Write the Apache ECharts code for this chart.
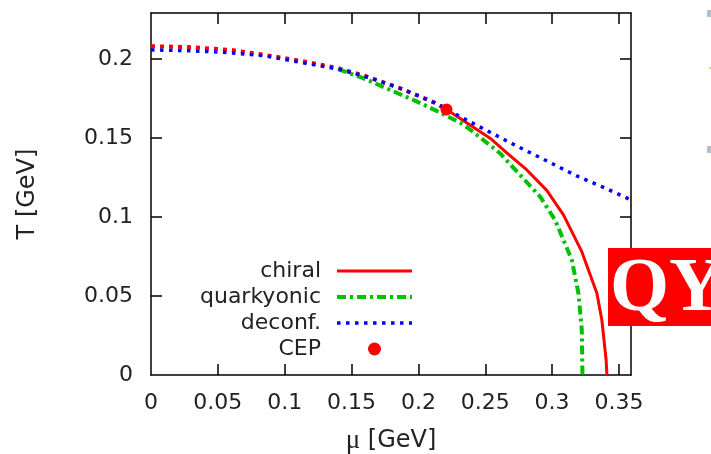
<!DOCTYPE html>
<html>
<head>
<meta charset="utf-8">
<script src="https://cdn.jsdelivr.net/npm/echarts@6/dist/echarts.min.js"></script>
<style>
  html, body { margin: 0; padding: 0; background: #fff; }
  #chart { width: 711px; height: 454px; }
</style>
</head>
<body>
<div id="chart"></div>
<script>
// Phase boundaries in the (mu, T) plane, GeV
const crossoverMu = [0, 0.03, 0.06, 0.085, 0.1125, 0.14, 0.16, 0.186, 0.2124, 0.221];
const crossoverT  = [0.208, 0.2074, 0.2056, 0.2025, 0.1987, 0.1941, 0.1892, 0.1815, 0.1722, 0.168];

const chiralMu = [0.221, 0.2361, 0.2536, 0.2661, 0.2811, 0.296, 0.3085, 0.3222, 0.3335, 0.3372, 0.3404, 0.341];
const chiralT  = [0.168, 0.1595, 0.1498, 0.1405, 0.1297, 0.1168, 0.1013, 0.078, 0.0517, 0.0348, 0.0095, 0];

const quarkMu = [0.14, 0.1587, 0.1787, 0.1974, 0.2136, 0.2336, 0.2436, 0.261, 0.276, 0.291, 0.3022, 0.3085, 0.3147, 0.3197, 0.3222, 0.3227];
const quarkT  = [0.1935, 0.1878, 0.1804, 0.1736, 0.1671, 0.1585, 0.152, 0.1403, 0.1266, 0.1128, 0.0981, 0.0854, 0.0728, 0.0517, 0.0285, 0];

const deconfMu = [0, 0.03, 0.0575, 0.085, 0.1125, 0.14, 0.16, 0.186, 0.2124, 0.221, 0.2311, 0.2685, 0.2935, 0.3185, 0.3384, 0.359];
const deconfT  = [0.2057, 0.2051, 0.204, 0.2019, 0.1977, 0.1935, 0.189, 0.1815, 0.1722, 0.1685, 0.1635, 0.147, 0.1365, 0.1259, 0.1187, 0.1108];

const cepMu = [0.221];
const cepT  = [0.168];

const xTicks = [0, 0.05, 0.1, 0.15, 0.2, 0.25, 0.3, 0.35];
const yTicks = [0, 0.05, 0.1, 0.15, 0.2];

const zip = (a, b) => a.map((v, i) => [v, b[i]]);

const FONT = 'DejaVu Sans';
const TXT = '#222';
const frameLine = { show: true, onZero: false, lineStyle: { color: '#000', width: 1.5 } };
const tickIn = (vals) => ({ show: true, inside: true, length: 11, customValues: vals, lineStyle: { color: '#000', width: 1.5 } });
const fmt = v => String(+v.toFixed(2));
// legend entries for curves show only the line sample, no marker
const lineEntry = name => ({ name, itemStyle: { opacity: 0 } });

const chart = echarts.init(document.getElementById('chart'), null, { renderer: 'canvas' });
chart.setOption({
  animation: false,
  backgroundColor: '#fff',
  grid: { left: 151, right: 80, top: 13, bottom: 79, containLabel: false, outerBoundsMode: 'none' },
  xAxis: [
    {
      type: 'value', position: 'bottom', min: 0, max: 0.359,
      axisLine: frameLine,
      axisTick: tickIn(xTicks.slice(1)),
      axisLabel: { customValues: xTicks, formatter: fmt, margin: 17, fontFamily: FONT, fontSize: 22, color: TXT },
      splitLine: { show: false },
      name: '{m|\u03bc} [GeV]', nameLocation: 'middle', nameGap: 52,
      nameTextStyle: {
        fontFamily: FONT, fontSize: 24, color: TXT,
        rich: { m: { fontFamily: 'Liberation Serif', fontSize: 27, color: TXT } }
      }
    },
    {
      type: 'value', position: 'top', min: 0, max: 0.359,
      axisLine: frameLine,
      axisTick: tickIn(xTicks.slice(1)),
      axisLabel: { show: false },
      splitLine: { show: false }
    }
  ],
  yAxis: [
    {
      type: 'value', position: 'left', min: 0, max: 0.229,
      axisLine: frameLine,
      axisTick: tickIn(yTicks.slice(1)),
      axisLabel: { customValues: yTicks, formatter: fmt, margin: 18, fontFamily: FONT, fontSize: 22, color: TXT },
      splitLine: { show: false },
      name: 'T [GeV]', nameLocation: 'middle', nameGap: 111, nameRotate: 90,
      nameTextStyle: { fontFamily: FONT, fontSize: 24, color: TXT }
    },
    {
      type: 'value', position: 'right', min: 0, max: 0.229,
      axisLine: frameLine,
      axisTick: tickIn(yTicks.slice(1)),
      axisLabel: { show: false },
      splitLine: { show: false }
    }
  ],
  legend: {
    orient: 'vertical', align: 'right',
    right: 297, top: 260, padding: 0,
    itemWidth: 75, itemHeight: 13, itemGap: 4,
    lineStyle: { width: 'inherit' },
    textStyle: { fontFamily: FONT, fontSize: 22, lineHeight: 22, color: TXT, padding: [0, 11, 0, 0] },
    data: [lineEntry('chiral'), lineEntry('quarkyonic'), lineEntry('deconf.'), 'CEP']
  },
  series: [
    {
      name: 'crossover', type: 'line', symbol: 'none', silent: true,
      data: zip(crossoverMu, crossoverT),
      lineStyle: { color: '#ff0000', width: 4, type: [4, 5], cap: 'butt' }, z: 2
    },
    {
      name: 'chiral', type: 'line', symbol: 'none', silent: true,
      data: zip(chiralMu, chiralT),
      lineStyle: { color: '#ff0000', width: 3 }, itemStyle: { color: '#ff0000' }, z: 3
    },
    {
      name: 'quarkyonic', type: 'line', symbol: 'none', silent: true,
      data: zip(quarkMu, quarkT),
      lineStyle: { color: '#00c000', width: 4, type: [9, 4, 3, 4] }, itemStyle: { color: '#00c000' }, z: 4
    },
    {
      name: 'deconf.', type: 'line', symbol: 'none', silent: true,
      data: zip(deconfMu, deconfT),
      lineStyle: { color: '#0000ff', width: 3.5, type: [3.5, 5.5] }, itemStyle: { color: '#0000ff' }, z: 5
    },
    {
      name: 'CEP', type: 'scatter', symbol: 'circle', symbolSize: 12, silent: true,
      data: zip(cepMu, cepT),
      itemStyle: { color: '#ff0000', opacity: 1 }, z: 6
    }
  ],
  graphic: [
    { type: 'rect', shape: { x: 608, y: 248, width: 110, height: 78 }, style: { fill: '#ff0000' }, z: 100 },
    { type: 'text', x: 610, y: 290, z: 101,
      style: { text: 'QY', fill: '#ffffff', font: 'bold 76px "Liberation Serif"', verticalAlign: 'middle', align: 'left' } },
    { type: 'rect', shape: { x: 707, y: 10, width: 4, height: 7 }, style: { fill: '#b4bfcc' }, z: 100 },
    { type: 'rect', shape: { x: 709, y: 67, width: 2, height: 2 }, style: { fill: '#e6c08a' }, z: 100 },
    { type: 'rect', shape: { x: 707, y: 146, width: 4, height: 7 }, style: { fill: '#b4bfcc' }, z: 100 }
  ]
});
</script>
</body>
</html>
